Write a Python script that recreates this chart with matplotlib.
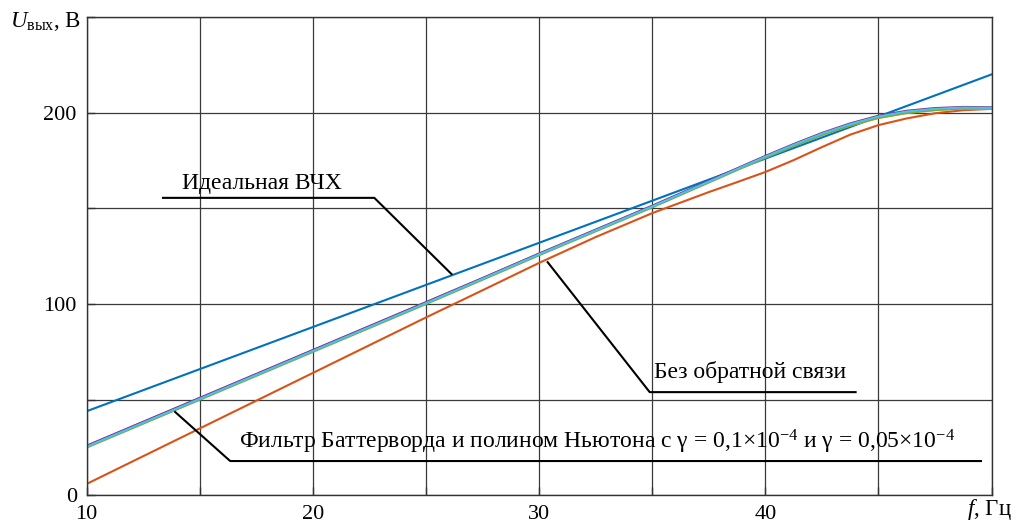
import matplotlib
matplotlib.use('Agg')
import matplotlib.pyplot as plt

plt.rcParams['font.family'] = ['Liberation Serif', 'DejaVu Serif']
plt.rcParams['mathtext.fontset'] = 'custom'
plt.rcParams['mathtext.rm'] = 'Liberation Serif'
plt.rcParams['mathtext.it'] = 'Liberation Serif:italic'

# frequency, Hz
f = [10, 12.5, 15, 17.5, 20, 22.5, 25, 27.5, 30, 32.5, 35, 36.25, 37.5,
     38.75, 40, 41.25, 42.5, 43.75, 45, 46.25, 47.5, 48.75, 50]

# output voltage, V
u_ideal = [44, 55, 66, 77, 88, 99, 110, 121, 132, 143, 154, 159.5, 165,
           170.5, 176, 181.5, 187, 192.5, 198, 203.5, 209, 214.5, 220]
u_no_fb = [6, 20.5, 35, 49.5, 64, 78.5, 93, 107.2, 121.5, 135, 147.5, 153,
           158.5, 163.7, 169, 175.2, 182, 188.5, 193.5, 197, 199.7, 201.3, 202]
u_bw1 = [25.7, 38.3, 50.8, 63.3, 75.8, 88.3, 100.9, 113.5, 126.3, 138.7, 151.2,
         157.6, 164, 170.4, 176.7, 182.7, 188.4, 193.3, 197.2, 199.8, 201.3, 202.1, 202.1]
u_bw2 = [26, 38.5, 51, 63.5, 76, 88.5, 101, 113.6, 126.4, 138.9, 151.4, 157.9,
         164.4, 170.9, 177.4, 183.6, 189.4, 194.4, 198.4, 201, 202.4, 203, 202.8]
u_bw3 = [25.0, 37.5, 50.0, 62.5, 75.0, 87.5, 100.0, 112.7, 125.5, 138.0, 150.5,
         157.0, 163.5, 170.0, 176.4, 182.5, 188.3, 193.3, 197.3, 199.9, 201.4, 202.2, 202.2]
u_bw4 = [25.5, 38, 50.5, 63, 75.5, 88, 100.5, 113.2, 126, 138.5, 151, 157.5,
         164, 170.5, 177, 183.2, 189, 194, 198, 200.6, 202, 202.7, 202.5]

xticks = [10, 15, 20, 25, 30, 35, 40, 45, 50]
xtick_labels = ['10', '', '20', '', '30', '', '40', '', '']
yticks = [0, 50, 100, 150, 200, 250]
ytick_labels = ['0', '', '100', '', '200', '']

fig = plt.figure(figsize=(10.19, 5.24), dpi=100)
ax = fig.add_axes([0.0849, 0.0544, 0.8882, 0.9132])

ax.plot(f, u_ideal, color='#0072BD', lw=1.5)
ax.plot(f, u_no_fb, color='#D95319', lw=1.5)
ax.plot(f, u_bw1, color='#EDB120', lw=1.5)
ax.plot(f, u_bw2, color='#7E2F8E', lw=1.5)
ax.plot(f, u_bw3, color='#77AC30', lw=1.5)
ax.plot(f, u_bw4, color='#4DBEEE', lw=1.5)

ax.set_xlim(10, 50)
ax.set_ylim(0, 250)
ax.set_xticks(xticks)
ax.set_xticklabels(xtick_labels)
ax.set_yticks(yticks)
ax.set_yticklabels(ytick_labels)
ax.grid(True, color='#3a3a3a', lw=0.9)
ax.set_axisbelow(True)
ax.tick_params(direction='in', length=6, width=1, color='#333333',
               labelsize=16, pad=7)
for s in ax.spines.values():
    s.set_color('#333333')
    s.set_linewidth(1)

# leader lines and labels
ax.plot([13.38, 22.72, 26.13], [155.5, 155.5, 115.7], color='black', lw=1.5)
ax.text(14.23, 160, 'Идеальная ВЧХ', fontsize=17)

ax.plot([30.38, 34.89, 43.99], [121.9, 54.0, 54.0], color='black', lw=1.5)
ax.text(35.07, 61.3, 'Без обратной связи', fontsize=17)

ax.plot([13.92, 16.35, 49.53], [43.6, 18.0, 18.0], color='black', lw=1.5)
ax.text(16.75, 24.8,
        'Фильтр Баттерворда и полином Ньютона с γ = 0,1×10$^{−4}$ и γ = 0,05×10$^{−4}$',
        fontsize=17)

fig.text(0.0098, 0.9485, r'$U_{\mathrm{вых}}$, В', fontsize=16.5, va='baseline')
fig.text(0.949, 0.017, r'$f$, Гц', fontsize=16.5, va='baseline')

fig.savefig('out.png', dpi=100)
